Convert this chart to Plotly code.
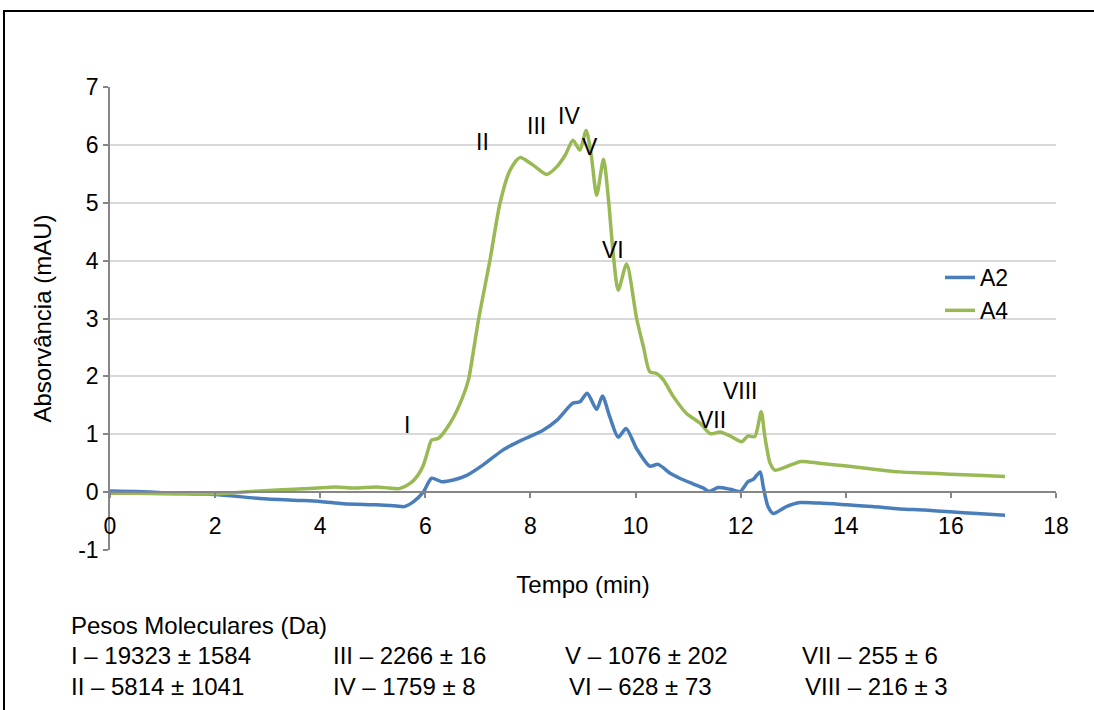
import plotly.graph_objects as go

# ---- data ----
t_a2 = [0, 0.5, 1.0, 1.5, 2.0, 2.85, 3.5, 4.0, 4.44, 5.07, 5.45, 5.6, 5.77, 5.96, 6.12, 6.31, 6.53,
        6.79, 7.10, 7.48, 7.86, 8.24, 8.50, 8.81, 8.94, 9.08, 9.26, 9.37, 9.51, 9.67, 9.82, 10.02,
        10.27, 10.43, 10.65, 10.84, 11.10, 11.29, 11.40, 11.57, 11.80, 11.99, 12.14, 12.24, 12.37,
        12.43, 12.52, 12.62, 12.87, 13.13, 13.5, 14.02, 14.5, 15.03, 15.5, 15.98, 16.5, 17.03]
a2 = [0.02, 0.01, -0.01, -0.03, -0.04, -0.11, -0.14, -0.16, -0.20, -0.22, -0.24, -0.25, -0.17, 0.0,
      0.24, 0.18, 0.21, 0.29, 0.47, 0.73, 0.91, 1.07, 1.24, 1.54, 1.56, 1.71, 1.43, 1.66, 1.30, 0.95,
      1.10, 0.75, 0.45, 0.48, 0.33, 0.24, 0.14, 0.07, 0.01, 0.08, 0.05, 0.01, 0.18, 0.22, 0.35,
      0.09, -0.25, -0.37, -0.25, -0.18, -0.19, -0.22, -0.25, -0.29, -0.31, -0.34, -0.37, -0.40]

t_a4 = [0, 0.5, 1.0, 1.5, 2.0, 2.5, 2.85, 3.5, 4.12, 4.31, 4.63, 5.07, 5.3, 5.5, 5.71, 5.85, 5.96,
        6.05, 6.12, 6.25, 6.47, 6.66, 6.82, 6.9, 7.01, 7.23, 7.42, 7.61, 7.80, 8.05, 8.31, 8.50, 8.66,
        8.81, 8.94, 9.06, 9.16, 9.26, 9.39, 9.48, 9.58, 9.67, 9.83, 10.02, 10.15, 10.27, 10.40,
        10.53, 10.72, 10.97, 11.23, 11.42, 11.61, 11.80, 12.02, 12.14, 12.27, 12.39, 12.46, 12.56,
        12.65, 12.87, 13.15, 13.5, 14.02, 14.5, 15.03, 15.5, 15.98, 16.5, 17.03]
a4 = [-0.02, -0.02, -0.03, -0.03, -0.03, 0.0, 0.02, 0.05, 0.08, 0.09, 0.07, 0.09, 0.07, 0.06, 0.15,
      0.28, 0.46, 0.72, 0.90, 0.93, 1.19, 1.53, 1.94, 2.35, 2.97, 4.01, 4.99, 5.56, 5.78, 5.65, 5.49,
      5.62, 5.82, 6.08, 5.91, 6.25, 5.80, 5.13, 5.75, 5.10, 4.07, 3.49, 3.94, 3.0, 2.51, 2.08, 2.05,
      1.94, 1.65, 1.36, 1.19, 1.01, 1.04, 0.97, 0.87, 0.97, 0.96, 1.39, 0.96, 0.50, 0.38, 0.44, 0.53,
      0.50, 0.45, 0.40, 0.35, 0.33, 0.31, 0.29, 0.27]

peak_labels = ["I", "II", "III", "IV", "V", "VI", "VII", "VIII"]
peak_label_t = [5.65, 7.08, 8.12, 8.73, 9.13, 9.57, 11.45, 12.0]
peak_label_y = [1.16, 6.05, 6.33, 6.50, 5.96, 4.18, 1.24, 1.75]

mw_title = "Pesos Moleculares (Da)"
mw_row1 = ["I – 19323 ± 1584", "III – 2266 ± 16", "V – 1076 ± 202", "VII – 255 ± 6"]
mw_row2 = ["II – 5814 ± 1041", "IV – 1759 ± 8", "VI – 628 ± 73", "VIII – 216 ± 3"]

x_ticks = list(range(0, 19, 2))
y_ticks = list(range(-1, 8))
y_tick_text = [str(v) for v in y_ticks]
grid_vals = list(range(1, 8))

# ---- geometry ----
W, H = 1094, 710
ML, MR, MT, MB = 110, 38, 87, 160
PW, PH = W - ML - MR, H - MT - MB

def px_x(px):
    return (px - ML) / PW

def px_y(py):
    return (H - MB - py) / PH

FONT = "Liberation Sans, Arial, sans-serif"
AX = "#868686"
TXT = 24

fig = go.Figure()
fig.add_trace(go.Scatter(x=t_a2, y=a2, name="A2", mode="lines",
                         line=dict(color="#4a7ebb", width=3.5, shape="spline", smoothing=0.7)))
fig.add_trace(go.Scatter(x=t_a4, y=a4, name="A4", mode="lines",
                         line=dict(color="#98b954", width=3.5, shape="spline", smoothing=0.7)))

annotations = []
for lab, tx, ty in zip(peak_labels, peak_label_t, peak_label_y):
    annotations.append(dict(x=tx, y=ty, xref="x", yref="y", text=lab, showarrow=False,
                            font=dict(size=23, color="black", family=FONT)))

annotations.append(dict(x=px_x(69), y=px_y(625), xref="paper", yref="paper", text=mw_title,
                        showarrow=False, xanchor="left", yanchor="middle",
                        font=dict(size=TXT, color="black", family=FONT)))
col_x1 = [69, 331, 563, 800]
col_x2 = [69, 331, 567, 803]
for txt, cx in zip(mw_row1, col_x1):
    annotations.append(dict(x=px_x(cx), y=px_y(655), xref="paper", yref="paper", text=txt,
                            showarrow=False, xanchor="left", yanchor="middle",
                            font=dict(size=TXT, color="black", family=FONT)))
for txt, cx in zip(mw_row2, col_x2):
    annotations.append(dict(x=px_x(cx), y=px_y(686), xref="paper", yref="paper", text=txt,
                            showarrow=False, xanchor="left", yanchor="middle",
                            font=dict(size=TXT, color="black", family=FONT)))

fig.update_layout(
    width=W, height=H,
    margin=dict(l=ML, r=MR, t=MT, b=MB),
    paper_bgcolor="white", plot_bgcolor="white",
    font=dict(family=FONT, size=23, color="black"),
    showlegend=True,
    legend=dict(x=px_x(940), y=px_y(256), xanchor="left", yanchor="top",
                bgcolor="rgba(0,0,0,0)", font=dict(size=23, color="black", family=FONT),
                tracegroupgap=0),
    xaxis=dict(range=[0, 18], tickvals=x_ticks, anchor="free", position=1 / 8,
               showline=True, linecolor=AX, linewidth=1.5, ticks="outside", ticklen=5,
               tickcolor=AX, tickwidth=1.5, showgrid=False, zeroline=False,
               ticklabelstandoff=9,
               tickfont=dict(size=23, color="black", family=FONT),
               title=dict(text="Tempo (min)", font=dict(size=TXT, color="black", family=FONT),
                          standoff=37)),
    yaxis=dict(range=[-1, 7], tickvals=y_ticks, ticktext=y_tick_text, showline=True,
               linecolor=AX, linewidth=1.5,
               ticks="outside", ticklen=5, tickcolor=AX, tickwidth=1.5, showgrid=False,
               zeroline=False, tickfont=dict(size=23, color="black", family=FONT),
               title=dict(text="Absorvância (mAU)", font=dict(size=TXT, color="black", family=FONT),
                          standoff=20)),
    yaxis2=dict(range=[-1, 7], tickvals=grid_vals, overlaying="y", showticklabels=False,
                showgrid=True, gridcolor="#d9d9d9", gridwidth=2, zeroline=False, showline=False,
                ticks=""),
    annotations=annotations,
    shapes=[dict(type="rect", xref="paper", yref="paper",
                 x0=px_x(4), x1=px_x(1110), y0=px_y(730), y1=px_y(11),
                 line=dict(color="black", width=2), fillcolor="rgba(0,0,0,0)", layer="above")],
)

# invisible trace to activate yaxis2 grid
fig.add_trace(go.Scatter(x=[None], y=[None], yaxis="y2", showlegend=False, hoverinfo="skip"))

fig.write_html("out.html")
